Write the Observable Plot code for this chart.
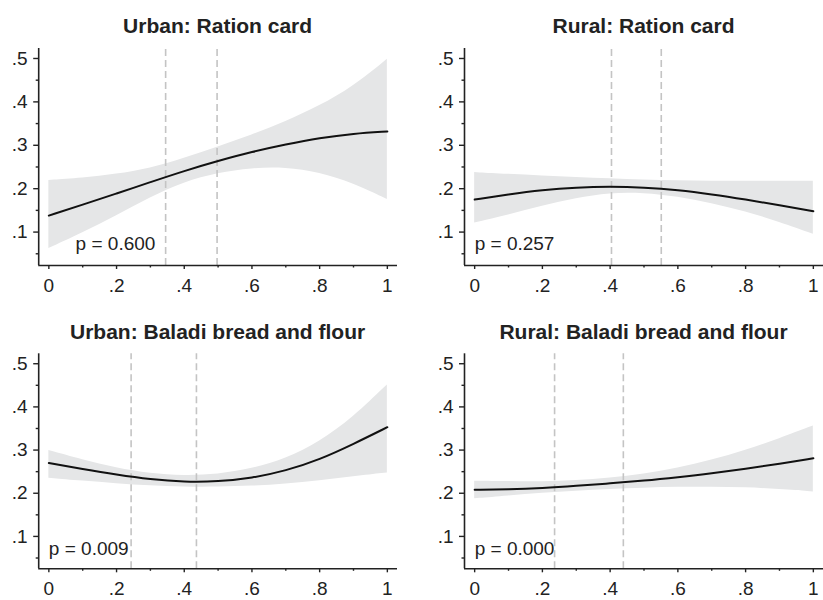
<!DOCTYPE html>
<html><head><meta charset="utf-8">
<script src="https://cdn.jsdelivr.net/npm/d3@7"></script>
<script src="https://cdn.jsdelivr.net/npm/@observablehq/plot@0.6"></script>
<style>
body{margin:0;background:#fff;}
#chart{position:relative;width:823px;height:600px;overflow:hidden;font-family:"Liberation Sans",Arial,Helvetica,sans-serif;}
.panel{position:absolute;}
.title{position:absolute;font-weight:bold;font-size:21px;line-height:21px;color:#222;text-align:center;white-space:nowrap;}
</style></head><body><div id="chart"></div>
<script>
// ---- data ----
const xGrid = [0, 0.1, 0.2, 0.3, 0.4, 0.5, 0.6, 0.7, 0.8, 0.9, 1];

const titles = ["Urban: Ration card", "Rural: Ration card", "Urban: Baladi bread and flour", "Rural: Baladi bread and flour"];
const pLabels = ["p = 0.600", "p = 0.257", "p = 0.009", "p = 0.000"];
const pLabelX = [0.079, 0, 0, 0];

const urbanRationFit = [0.138, 0.163, 0.189, 0.215, 0.241, 0.264, 0.285, 0.302, 0.317, 0.327, 0.332];
const urbanRationLo  = [0.062, 0.098, 0.137, 0.180, 0.215, 0.236, 0.247, 0.249, 0.237, 0.212, 0.175];
const urbanRationHi  = [0.219, 0.224, 0.233, 0.246, 0.270, 0.296, 0.323, 0.354, 0.390, 0.435, 0.498];
const urbanRationDash = [0.345, 0.497];

const ruralRationFit = [0.175, 0.187, 0.197, 0.203, 0.205, 0.203, 0.197, 0.187, 0.175, 0.162, 0.148];
const ruralRationLo  = [0.121, 0.139, 0.160, 0.178, 0.190, 0.190, 0.181, 0.166, 0.147, 0.123, 0.095];
const ruralRationHi  = [0.237, 0.233, 0.229, 0.226, 0.223, 0.220, 0.218, 0.217, 0.217, 0.217, 0.217];
const ruralRationDash = [0.404, 0.551];

const urbanBreadFit = [0.270, 0.256, 0.243, 0.232, 0.226, 0.227, 0.235, 0.252, 0.278, 0.314, 0.353];
const urbanBreadLo  = [0.235, 0.228, 0.222, 0.217, 0.214, 0.214, 0.216, 0.221, 0.229, 0.238, 0.247];
const urbanBreadHi  = [0.299, 0.277, 0.258, 0.245, 0.240, 0.243, 0.256, 0.279, 0.318, 0.375, 0.451];
const urbanBreadDash = [0.243, 0.436];

const ruralBreadFit = [0.208, 0.209, 0.212, 0.217, 0.223, 0.229, 0.237, 0.246, 0.257, 0.268, 0.281];
const ruralBreadLo  = [0.187, 0.194, 0.200, 0.205, 0.209, 0.212, 0.214, 0.214, 0.213, 0.209, 0.203];
const ruralBreadHi  = [0.228, 0.227, 0.226, 0.229, 0.235, 0.244, 0.258, 0.276, 0.299, 0.326, 0.356];
const ruralBreadDash = [0.236, 0.439];

const xTicks = [0, 0.2, 0.4, 0.6, 0.8, 1];
const xMinorTicks = [0.1, 0.3, 0.5, 0.7, 0.9];
const yTicks = [0.1, 0.2, 0.3, 0.4, 0.5];
const yMinorTicks = [0.05, 0.15, 0.25, 0.35, 0.45];

// ---- layout ----
const series = [
  [urbanRationFit, urbanRationLo, urbanRationHi, urbanRationDash],
  [ruralRationFit, ruralRationLo, ruralRationHi, ruralRationDash],
  [urbanBreadFit, urbanBreadLo, urbanBreadHi, urbanBreadDash],
  [ruralBreadFit, ruralBreadLo, ruralBreadHi, ruralBreadDash]
];
const layout = [
  {left: 0,   top: 0,   width: 411, mL: 38.2, mR: 14, mT: 48,   mB: 35,   yDom: [0.023, 0.523], titleTop: 14.5},
  {left: 411, top: 0,   width: 412, mL: 53,   mR: 0,  mT: 48,   mB: 35,   yDom: [0.023, 0.523], titleTop: 14.5},
  {left: 0,   top: 300, width: 411, mL: 38.2, mR: 14, mT: 53.3, mB: 31.7, yDom: [0.025, 0.523], titleTop: 20.5},
  {left: 411, top: 300, width: 412, mL: 53,   mR: 0,  mT: 53.3, mB: 31.7, yDom: [0.025, 0.523], titleTop: 20.5}
];
const xDom = [-0.03, 1.03];
const fmt = d => d === 0 ? "0" : d === 1 ? "1" : d.toFixed(1).replace(/^0/, "");
const FS = 19;

const chart = document.getElementById("chart");
layout.forEach((L, i) => {
  const [fit, lo, hi, dash] = series[i];
  const rows = xGrid.map((x, j) => ({x, fit: fit[j], lo: lo[j], hi: hi[j]}));
  const plot = Plot.plot({
    width: L.width, height: 300,
    marginLeft: L.mL, marginRight: L.mR, marginTop: L.mT, marginBottom: L.mB,
    style: {fontFamily: '"Liberation Sans", Arial, sans-serif', fontSize: FS + "px", color: "#222", background: "transparent", overflow: "visible"},
    x: {domain: xDom},
    y: {domain: L.yDom},
    marks: [
      Plot.areaY(rows, {x: "x", y1: "lo", y2: "hi", fill: "#e5e6e7", curve: "basis"}),
      Plot.ruleX(dash, {x: d => d, y1: L.yDom[0], y2: L.yDom[1], stroke: "#c4c4c4", strokeWidth: 1.6, strokeDasharray: "7,4"}),
      Plot.lineY(rows, {x: "x", y: "fit", stroke: "#111", strokeWidth: 2, curve: "basis"}),
      Plot.ruleX([xDom[0]], {y1: L.yDom[0], y2: L.yDom[1], stroke: "#222", strokeWidth: 1.6}),
      Plot.ruleY([L.yDom[0]], {x1: xDom[0], x2: xDom[1], stroke: "#222", strokeWidth: 1.6}),
      Plot.axisY(yTicks, {tickSize: 5, tickPadding: 6, tickFormat: fmt, strokeWidth: 1.4, fontSize: FS, label: null}),
      Plot.axisY(yMinorTicks, {tickSize: 2.5, tickFormat: () => "", strokeWidth: 1.4, label: null}),
      Plot.axisX(xTicks, {tickSize: 4, tickPadding: 9, tickFormat: fmt, strokeWidth: 1.4, fontSize: FS, label: null}),
      Plot.axisX(xMinorTicks, {tickSize: 2.5, tickFormat: () => "", strokeWidth: 1.4, label: null}),
      Plot.text([pLabels[i]], {x: pLabelX[i], y: 0.072, text: d => d, textAnchor: "start", lineAnchor: "middle", fontSize: FS, fill: "#222"})
    ]
  });
  const wrap = document.createElement("div");
  wrap.className = "panel";
  wrap.style.left = L.left + "px";
  wrap.style.top = L.top + "px";
  wrap.appendChild(plot);
  chart.appendChild(wrap);
  const t = document.createElement("div");
  t.className = "title";
  t.textContent = titles[i];
  t.style.left = (L.left + L.mL) + "px";
  t.style.width = (L.width - L.mL - L.mR) + "px";
  t.style.top = (L.top + L.titleTop) + "px";
  chart.appendChild(t);
});
</script></body></html>
